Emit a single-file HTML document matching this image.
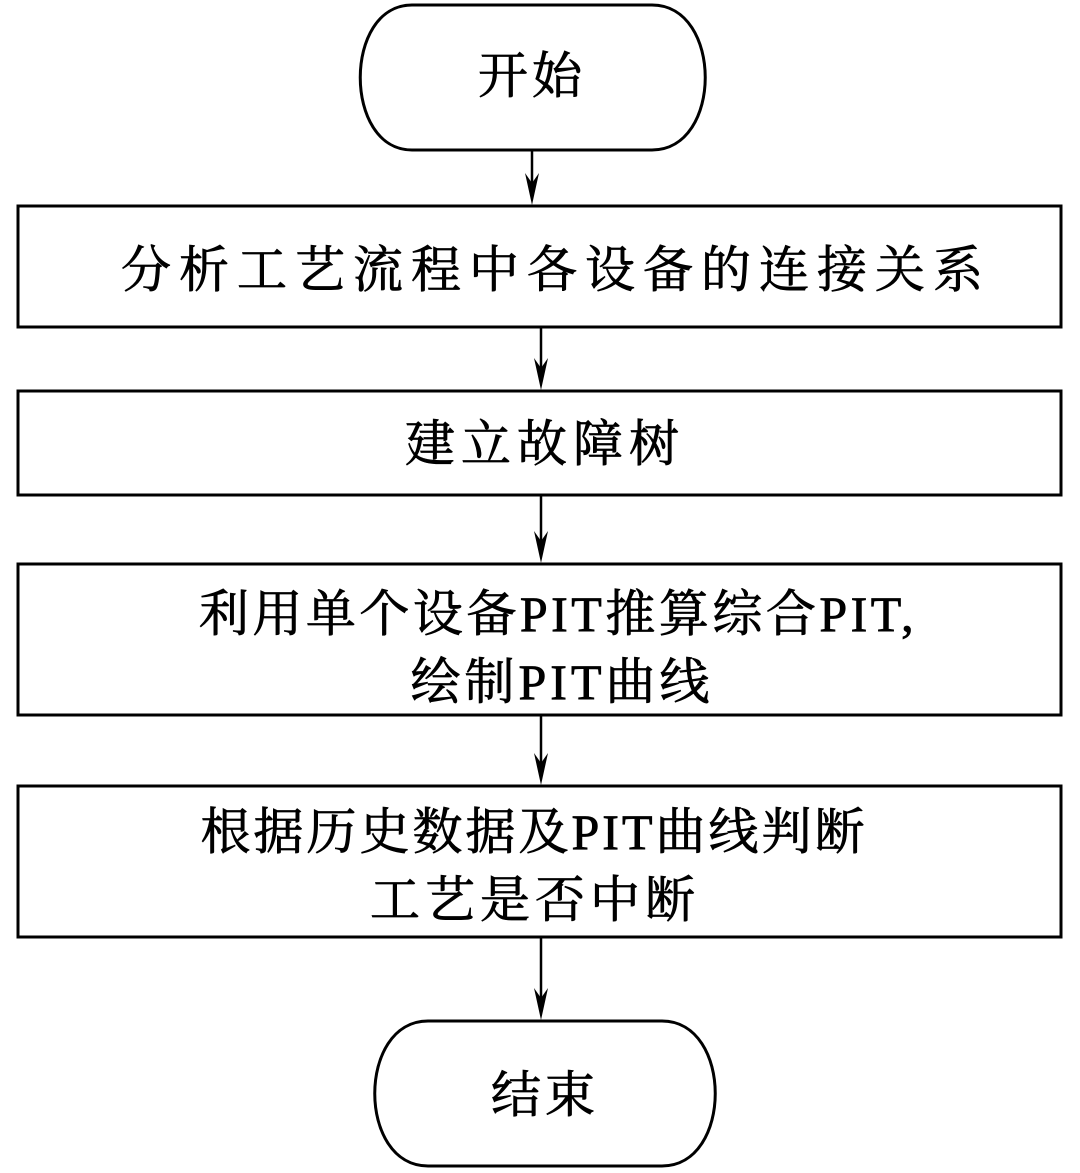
<!DOCTYPE html>
<html><head><meta charset="utf-8"><style>
html,body{margin:0;padding:0;background:#fff}
svg{display:block}
text{font-family:"Liberation Serif","Noto Serif CJK SC",serif;font-size:50px;fill:#000;text-anchor:middle;stroke:#000;stroke-width:0.8}
</style></head><body>
<svg width="1080" height="1173" viewBox="0 0 1080 1173" xmlns="http://www.w3.org/2000/svg">
<g fill="none" stroke="#000" stroke-width="3">
<path d="M412,5 H652 C723,5 723,150 652,150 H412 C343,150 343,5 412,5 Z"/>
<path d="M428,1021 H662 C733,1021 733,1166 662,1166 H428 C357,1166 357,1021 428,1021 Z"/>
<rect x="18" y="206" width="1043" height="121"/>
<rect x="18" y="391" width="1043" height="104"/>
<rect x="18" y="564" width="1043" height="151"/>
<rect x="18" y="786" width="1043" height="151"/>
<g stroke-width="2.5">
<line x1="532" y1="150" x2="532" y2="190"/>
<line x1="541" y1="327" x2="541" y2="375"/>
<line x1="541" y1="495" x2="541" y2="548"/>
<line x1="541" y1="715" x2="541" y2="770"/>
<line x1="541" y1="937" x2="541" y2="1005"/>
</g>
</g>
<g fill="#000">
<path d="M525,173 L532,205 L539,173 L532,183 Z"/>
<path d="M534,358 L541,390 L548,358 L541,368 Z"/>
<path d="M534,531 L541,563 L548,531 L541,541 Z"/>
<path d="M534,753 L541,785 L548,753 L541,763 Z"/>
<path d="M534,988 L541,1020 L548,988 L541,998 Z"/>
</g>
<text x="532" y="93" letter-spacing="4">开始</text>
<text x="556" y="287" letter-spacing="8">分析工艺流程中各设备的连接关系</text>
<text x="545" y="461" letter-spacing="6">建立故障树</text>
<text x="558" y="631" letter-spacing="3.5">利用单个设备PIT推算综合PIT,</text>
<text x="562" y="699" letter-spacing="4">绘制PIT曲线</text>
<text x="534" y="849" letter-spacing="3">根据历史数据及PIT曲线判断</text>
<text x="535" y="917" letter-spacing="5">工艺是否中断</text>
<text x="545" y="1112" letter-spacing="4">结束</text>
</svg>
</body></html>
